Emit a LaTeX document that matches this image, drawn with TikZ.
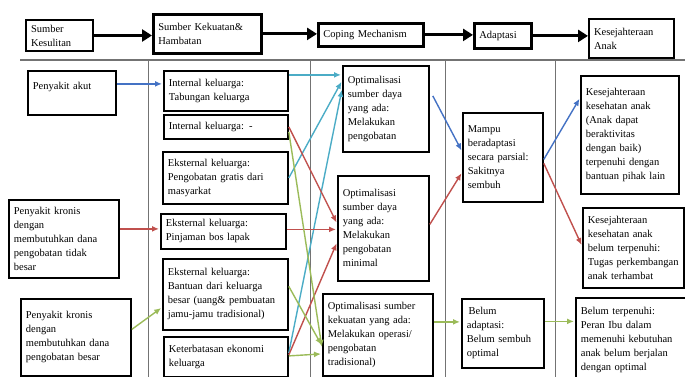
\documentclass[tikz,border=0pt]{standalone}
\usepackage{fontspec}
\setmainfont{Liberation Serif}
\usetikzlibrary{arrows.meta}

\definecolor{blu}{RGB}{68,114,196}
\definecolor{aqua}{RGB}{75,172,198}
\definecolor{rd}{RGB}{192,80,77}
\definecolor{grn}{RGB}{155,187,89}

\tikzset{
  box/.style={draw, line width=1.8pt, anchor=north west, align=left, inner xsep=5pt, inner ysep=3pt, font={\fontsize{10.5}{14}\selectfont}},
  hbox/.style={box, line width=2pt},
  hbox2/.style={box, line width=2.8pt},
  hdr/.style={line width=3.2pt, -{Triangle[length=10pt,width=12pt]}},
  lnk/.style={line width=1.4pt, -{Latex[length=7pt,width=6pt]}, shorten >=1pt},
  sepl/.style={draw=black!55, line width=0.7pt}
}

\begin{document}
\begin{tikzpicture}[x=1pt,y=-1pt]
        \useasboundingbox (0,0) rectangle (685,377);
        \clip (0,0) rectangle (685,377);

        % column lines
        \draw[sepl, line width=1.3pt] (20,60) -- (685,60);
        \foreach \x in {148,310,445,555}
            \draw[sepl] (\x,60) -- (\x,377);

        % header
        \node[hbox, text width=57pt, minimum height=31pt] (SK) at (25,19) {Sumber\\Kesulitan};
        \node[hbox2, text width=98pt, minimum height=39pt] (SKH) at (152,13) {Sumber Kekuatan\&\\Hambatan};
        \node[hbox2, text width=95pt, minimum height=23pt] (CM) at (317,22) {Coping Mechanism};
        \node[hbox2, text width=47pt, minimum height=25pt] (AD) at (473,22) {Adaptasi};
        \node[hbox, text width=75pt, minimum height=39pt] (KA) at (588,18) {Kesejahteraan\\Anak};

        \draw[hdr] (SK.east) -- (SK.east -| SKH.west);
        \draw[hdr] (SKH.east) -- (SKH.east -| CM.west);
        \draw[hdr] (CM.east) -- (CM.east -| AD.west);
        \draw[hdr] (AD.east) -- (AD.east -| KA.west);

        % sumber kesulitan
        \node[box, text width=78pt, minimum height=44pt] (P1) at (27,70) {Penyakit akut\\\mbox{}};
        \node[box, text width=100pt, minimum height=78pt] (P2) at (8,199) {Penyakit kronis\\dengan\\membutuhkan dana\\pengobatan tidak\\besar};
        \node[box, text width=100pt, minimum height=77pt] (P3) at (20,298) {Penyakit kronis\\dengan\\membutuhkan dana\\pengobatan besar};

        % sumber kekuatan & hambatan
        \node[box, text width=114pt, minimum height=40pt] (H1) at (163,70) {Internal keluarga:\\Tabungan keluarga};
        \node[box, text width=114pt, minimum height=24pt] (H2) at (163,114) {Internal keluarga: -};
        \node[box, text width=115pt, minimum height=52pt] (H3) at (162,151) {Eksternal keluarga:\\Pengobatan gratis dari\\masyarkat};
        \node[box, text width=115pt, minimum height=35pt] (H4) at (160,213) {Eksternal keluarga:\\Pinjaman bos lapak};
        \node[box, text width=115pt, minimum height=71pt] (H5) at (162,258) {Eksternal keluarga:\\Bantuan dari keluarga\\besar (uang\& pembuatan\\jamu-jamu tradisional)};
        \node[box, text width=114pt, minimum height=40pt] (H6) at (163,336) {Keterbatasan ekonomi\\keluarga};

        % coping
        \node[box, text width=76pt, minimum height=86pt] (C1) at (342,65) {Optimalisasi\\sumber daya\\yang ada:\\Melakukan\\pengobatan};
        \node[box, text width=81pt, minimum height=105pt] (C2) at (337,175) {Optimalisasi\\sumber daya\\yang ada:\\Melakukan\\pengobatan\\minimal};
        \node[box, text width=100pt, minimum height=82pt] (C3) at (322,293) {Optimalisasi sumber\\kekuatan yang ada:\\Melakukan operasi/\\pengobatan\\tradisional)};

        % adaptasi
        \node[box, text width=70pt, minimum height=89pt] (A1) at (462,112) {Mampu\\beradaptasi\\secara parsial:\\Sakitnya\\sembuh};
        \node[box, text width=72pt, minimum height=69pt] (A2) at (461,298) {\,Belum\\adaptasi:\\Belum sembuh\\optimal};

        % kesejahteraan anak
        \node[box, text width=88pt, minimum height=118pt] (K1) at (580,75) {Kesejahteraan\\kesehatan anak\\(Anak dapat\\beraktivitas\\dengan baik)\\terpenuhi dengan\\bantuan pihak lain};
        \node[box, text width=91pt, minimum height=80pt] (K2) at (582,207) {Kesejahteraan\\kesehatan anak\\belum terpenuhi:\\Tugas perkembangan\\anak terhambat};
        \node[box, text width=100pt, minimum height=84pt] (K3) at (575,297) {Belum terpenuhi:\\Peran Ibu dalam\\memenuhi kebutuhan\\anak belum berjalan\\dengan optimal};

        \draw[lnk, blu] ([yshift=9pt]P1.east) -- ([yshift=9pt]P1.east -| H1.west);
        \draw[lnk, rd] ([yshift=10pt]P2.east) -- ([yshift=10pt]P2.east -| H4.west);
        \draw[lnk, grn] ([yshift=8pt]P3.east) -- ([yshift=-13pt]H5.west);

        \draw[lnk, aqua] ([yshift=16pt]H1.east) -- ([yshift=16pt]H1.east -| C1.west);
        \draw[lnk, aqua] (H3.east) -- ([yshift=28pt]C1.west);
        \draw[lnk, aqua] ([yshift=4pt]H6.east) -- ([yshift=20pt]C1.west);
        \draw[lnk, rd] (H2.east) -- ([yshift=5pt]C2.west);
        \draw[lnk, rd] ([yshift=2pt]H4.east) -- ([yshift=2pt]H4.east -| C2.west);
        \draw[lnk, rd] ([yshift=2pt]H6.east) -- ([yshift=-14pt]C2.west);
        \draw[lnk, grn] ([yshift=-5pt]H2.east) -- ([yshift=-13pt]C3.west);
        \draw[lnk, grn] ([yshift=8pt]H5.east) -- ([yshift=-11pt]C3.west);
        \draw[lnk, grn] ([yshift=1pt]H6.east) -- ([yshift=-19pt]C3.west);

        \draw[lnk, blu] ([xshift=3pt,yshift=13pt]C1.east) -- ([yshift=6pt]A1.west);
        \draw[lnk, rd] ([yshift=4pt]C2.east) -- ([yshift=-15pt]A1.west);
        \draw[lnk, grn] ([yshift=13pt]C3.east) -- ([yshift=13pt]C3.east -| A2.west);

        \draw[lnk, blu] ([yshift=-2pt]A1.east) -- ([yshift=37pt]K1.west);
        \draw[lnk, rd] ([yshift=-6pt]A1.east) -- ([yshift=2pt]K2.west);
        \draw[lnk, grn] ([yshift=12pt]A2.east) -- ([yshift=12pt]A2.east -| K3.west);

    \end{tikzpicture}
\end{document}
